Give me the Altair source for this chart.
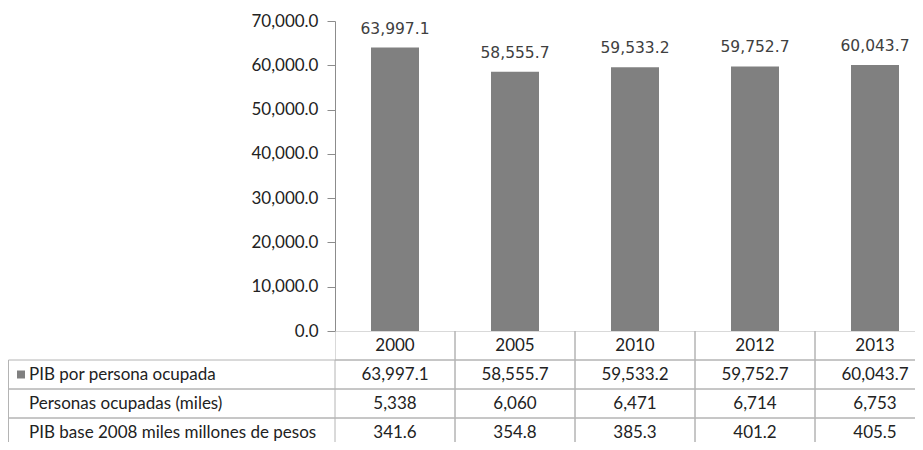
import altair as alt
import pandas as pd

years = ["2000", "2005", "2010", "2012", "2013"]
pib_por_persona = [63997.1, 58555.7, 59533.2, 59752.7, 60043.7]
personas_ocupadas = [5338, 6060, 6471, 6714, 6753]
pib_base_2008 = [341.6, 354.8, 385.3, 401.2, 405.5]
row_labels = ["PIB por persona ocupada", "Personas ocupadas (miles)",
              "PIB base 2008 miles millones de pesos"]
y_ticks = [0, 10000, 20000, 30000, 40000, 50000, 60000, 70000]

TABLE_FONT = "Lato, Liberation Sans, sans-serif"
LABEL_FONT = "DejaVu Sans, Verdana, sans-serif"
GRID = "#b4b4b4"
BAR = "#808080"
TXT = "#222222"

bars_df = pd.DataFrame({"year": years, "value": pib_por_persona})

row_order = ["hdr"] + row_labels
recs = []
for i, y in enumerate(years):
    recs.append({"fila": "hdr", "year": y, "txt": y})
    recs.append({"fila": row_labels[0], "year": y, "txt": f"{pib_por_persona[i]:,.1f}"})
    recs.append({"fila": row_labels[1], "year": y, "txt": f"{personas_ocupadas[i]:,}"})
    recs.append({"fila": row_labels[2], "year": y, "txt": f"{pib_base_2008[i]:,.1f}"})
table_df = pd.DataFrame(recs)
labels_df = pd.DataFrame({"fila": row_labels})

W_LEFT = 327      # row-label column
W_VIS = 580       # visible part of the plot columns (rest is cut off)
X_RANGE = [0, 600]
H_PLOT = 310
H_TABLE = 111
Y_RANGE = [0, 116]

spacer = alt.Chart(pd.DataFrame({"v": [0]})).mark_point(opacity=0, size=1).encode(
    x=alt.value(1), y=alt.value(1)
).properties(width=W_LEFT, height=H_PLOT)

xb = alt.X("year:N", sort=years,
           scale=alt.Scale(domain=years, range=X_RANGE, paddingInner=0.6, paddingOuter=0.3),
           axis=None)
base = alt.Chart(bars_df).encode(
    x=xb,
    y=alt.Y("value:Q", scale=alt.Scale(domain=[0, 70000], nice=False),
            axis=alt.Axis(values=y_ticks, format=",.1f", title=None, grid=False,
                          tickSize=8, labelPadding=9, domainColor="#8c8c8c",
                          tickColor="#8c8c8c", labelFont=TABLE_FONT,
                          labelFontSize=17, labelColor=TXT)),
)
bars = base.mark_bar(color=BAR)
bar_text = base.mark_text(baseline="alphabetic", dy=-14, font=LABEL_FONT,
                          fontSize=15.5, color="#404040").encode(
    text=alt.Text("value:Q", format=",.1f"))
bar_chart = (bars + bar_text).properties(width=W_VIS, height=H_PLOT)

ysc = alt.Scale(domain=row_order, range=Y_RANGE, paddingInner=0, paddingOuter=0)
tbase = alt.Chart(table_df).encode(
    x=alt.X("year:N", sort=years,
            scale=alt.Scale(domain=years, range=X_RANGE, paddingInner=0, paddingOuter=0),
            axis=None),
    y=alt.Y("fila:N", scale=ysc, axis=None),
)
cells = tbase.mark_rect(fillOpacity=0, stroke=GRID, strokeWidth=1, clip=True)
cell_text = tbase.mark_text(font=TABLE_FONT, fontSize=17, color=TXT, clip=True).encode(
    text="txt:N")
values_chart = (cells + cell_text).properties(width=W_VIS, height=H_TABLE)

lbase = alt.Chart(labels_df).encode(y=alt.Y("fila:N", scale=ysc, axis=None))
lcells = lbase.mark_rect(fillOpacity=0, stroke=GRID, strokeWidth=1, clip=True).encode(
    x=alt.value(0.5), x2=alt.value("width"))
ltext = lbase.mark_text(align="left", font=TABLE_FONT, fontSize=17, color=TXT,
                        clip=True).encode(x=alt.value(21), text="fila:N")
lsq = alt.Chart(labels_df.iloc[:1]).mark_square(size=64, color=BAR, opacity=1).encode(
    y=alt.Y("fila:N", scale=ysc, axis=None), x=alt.value(13))
labels_chart = (lcells + ltext + lsq).properties(width=W_LEFT, height=H_TABLE)

chart = alt.concat(spacer, bar_chart, labels_chart, values_chart, columns=2,
                   spacing=0, bounds="flush", align="each").properties(
    padding={"left": 0, "top": 4, "right": 0, "bottom": 0}
).configure(background="white").configure_view(strokeWidth=0, stroke="transparent")

chart.save("out.html", embed_options={"renderer": "svg", "actions": False})
